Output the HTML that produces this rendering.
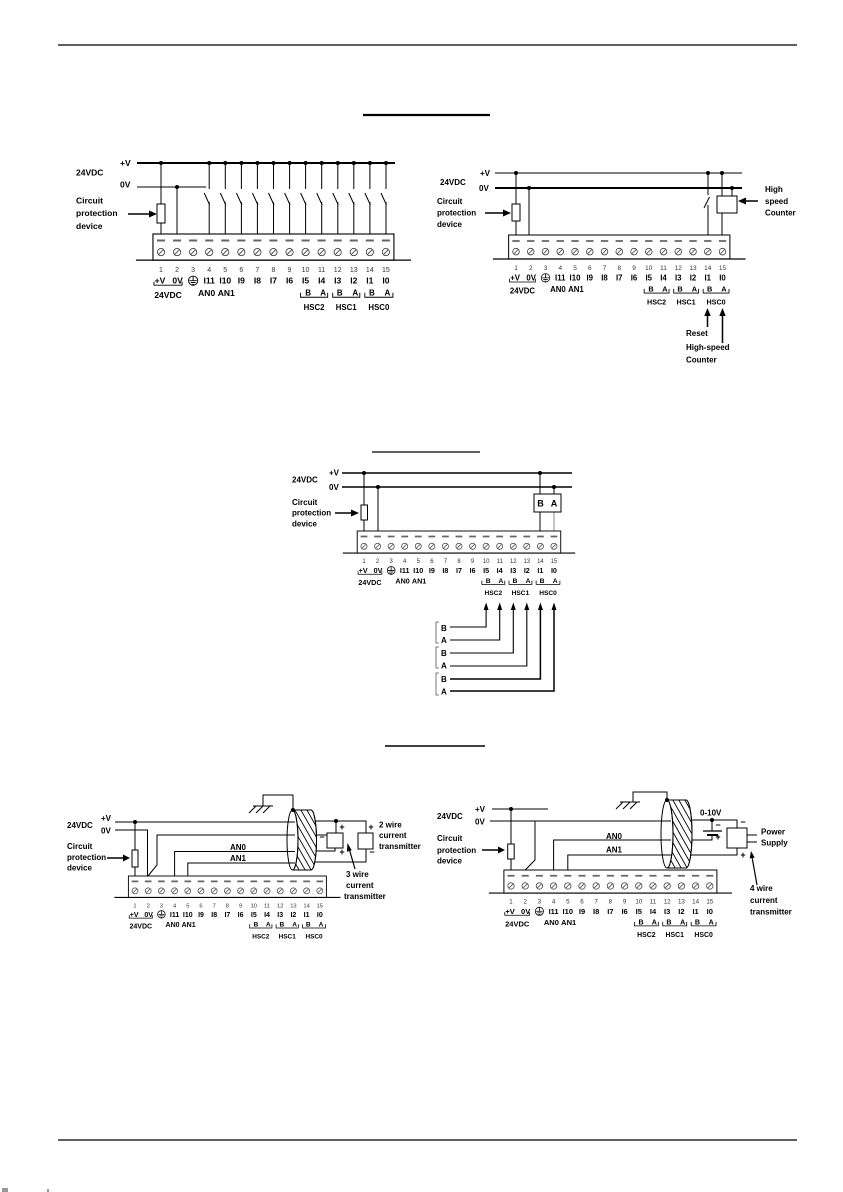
<!DOCTYPE html>
<html><head><meta charset="utf-8"><style>
html,body{margin:0;padding:0;background:#fff}
svg{display:block}
text{font-family:"Liberation Sans",Arial,sans-serif;fill:#000}
.t{font-size:8.5px;font-weight:bold}
.t8{font-size:8px;font-weight:bold}
.n{font-size:7px;fill:#333;text-anchor:middle}
.l{font-size:8.5px;font-weight:bold;text-anchor:middle}
.h{font-size:7.8px;font-weight:bold;text-anchor:middle}
.s{font-size:8px;font-weight:bold;text-anchor:middle}
.g{font-size:9px;font-weight:bold;text-anchor:middle}
</style></head><body>
<svg width="843" height="1192" viewBox="0 0 843 1192" xmlns="http://www.w3.org/2000/svg">
<defs>
<g id="blk" fill="none" stroke="#000">
<rect x="-8" y="0" width="240" height="26" fill="#fff" stroke-width="1.1"/>
<path d="M-25 26H249" stroke-width="1.3"/>
<path stroke="#666" stroke-width="2" d="M-4 6.5h8M12 6.5h8M28 6.5h8M44 6.5h8M60 6.5h8M76 6.5h8M92 6.5h8M108 6.5h8M124 6.5h8M140 6.5h8M156 6.5h8M172 6.5h8M188 6.5h8M204 6.5h8M220 6.5h8"/>
<g stroke="#444" stroke-width="0.9">
<circle cx="0" cy="18" r="3.6"/><circle cx="16" cy="18" r="3.6"/><circle cx="32" cy="18" r="3.6"/><circle cx="48" cy="18" r="3.6"/><circle cx="64" cy="18" r="3.6"/><circle cx="80" cy="18" r="3.6"/><circle cx="96" cy="18" r="3.6"/><circle cx="112" cy="18" r="3.6"/><circle cx="128" cy="18" r="3.6"/><circle cx="144" cy="18" r="3.6"/><circle cx="160" cy="18" r="3.6"/><circle cx="176" cy="18" r="3.6"/><circle cx="192" cy="18" r="3.6"/><circle cx="208" cy="18" r="3.6"/><circle cx="224" cy="18" r="3.6"/>
<path d="M-2.2 20.2l4.4-4.4M13.8 20.2l4.4-4.4M29.8 20.2l4.4-4.4M45.8 20.2l4.4-4.4M61.8 20.2l4.4-4.4M77.8 20.2l4.4-4.4M93.8 20.2l4.4-4.4M109.8 20.2l4.4-4.4M125.8 20.2l4.4-4.4M141.8 20.2l4.4-4.4M157.8 20.2l4.4-4.4M173.8 20.2l4.4-4.4M189.8 20.2l4.4-4.4M205.8 20.2l4.4-4.4M221.8 20.2l4.4-4.4"/>
</g>
<circle cx="32" cy="46.5" r="4.6" stroke-width="0.9"/>
<path stroke-width="0.9" d="M32 42V46.5M28.3 46.5H35.7M29.6 48.3H34.4M31 50.1H33"/>
<path stroke-width="0.9" d="M-7 47.5V51H21V47.5M139 58.5V63H166V58.5M171 58.5V63H198V58.5M203 58.5V63H231V58.5"/>
</g>
<clipPath id="c4"><path d="M292.5 810H311A5.5 30 0 0 1 311 870H292.5A5.5 30 0 0 0 292.5 810Z"/></clipPath>
<clipPath id="c5"><path d="M667 800H686A6 34 0 0 1 686 868H667A6 34 0 0 0 667 800Z"/></clipPath>
</defs>

<!-- page lines -->
<path d="M58 45H797M58 1140H797" stroke="#000" stroke-width="1.3"/>
<path d="M363 115H490" stroke="#000" stroke-width="2.2"/>
<path d="M372 452H480" stroke="#000" stroke-width="1.2"/>
<path d="M385 746H485" stroke="#000" stroke-width="1.6"/>
<rect x="2" y="1188" width="6" height="4" fill="#999"/><rect x="47" y="1189" width="2" height="3" fill="#999"/>

<!-- ============ DIAGRAM 1 ============ -->
<g stroke="#000" fill="none">
<path d="M137 163H395" stroke-width="2"/>
<path d="M137 187H206" stroke-width="1"/>
<path d="M161 163V234M177 187V234" stroke-width="1"/>
<path stroke-width="1" d="M209.2 163V189M204.2 193L209.7 205M209.2 202V234M225.3 163V189M220.3 193L225.8 205M225.3 202V234M241.4 163V189M236.4 193L241.9 205M241.4 202V234M257.4 163V189M252.4 193L257.9 205M257.4 202V234M273.5 163V189M268.5 193L274 205M273.5 202V234M289.6 163V189M284.6 193L290.1 205M289.6 202V234M305.6 163V189M300.6 193L306.1 205M305.6 202V234M321.7 163V189M316.7 193L322.2 205M321.7 202V234M337.8 163V189M332.8 193L338.3 205M337.8 202V234M353.8 163V189M348.8 193L354.3 205M353.8 202V234M369.9 163V189M364.9 193L370.4 205M369.9 202V234M386 163V189M381 193L386.5 205M386 202V234"/>
<rect x="157" y="204" width="8" height="19" fill="#fff" stroke-width="1"/>
<path d="M128 214H150" stroke-width="1.5"/>
</g>
<polygon points="157,214 149,210.5 149,217.5" fill="#000"/>
<g fill="#000">
<circle cx="161" cy="163" r="2"/><circle cx="177" cy="187" r="2"/>
<circle cx="209.2" cy="163" r="2"/><circle cx="225.3" cy="163" r="2"/><circle cx="241.4" cy="163" r="2"/><circle cx="257.4" cy="163" r="2"/><circle cx="273.5" cy="163" r="2"/><circle cx="289.6" cy="163" r="2"/><circle cx="305.6" cy="163" r="2"/><circle cx="321.7" cy="163" r="2"/><circle cx="337.8" cy="163" r="2"/><circle cx="353.8" cy="163" r="2"/><circle cx="369.9" cy="163" r="2"/><circle cx="386" cy="163" r="2"/>
</g>
<text class="t" x="120" y="166">+V</text>
<text class="t" x="76" y="175.5">24VDC</text>
<text class="t" x="120" y="187.5">0V</text>
<text class="t" x="76" y="203.5">Circuit</text>
<text class="t" x="76" y="216">protection</text>
<text class="t" x="76" y="229">device</text>
<g transform="translate(161 234) scale(1.004)"><use href="#blk"/>
<text class="n" x="0" y="38">1</text><text class="n" x="16" y="38">2</text><text class="n" x="32" y="38">3</text><text class="n" x="48" y="38">4</text><text class="n" x="64" y="38">5</text><text class="n" x="80" y="38">6</text><text class="n" x="96" y="38">7</text><text class="n" x="112" y="38">8</text><text class="n" x="128" y="38">9</text><text class="n" x="144" y="38">10</text><text class="n" x="160" y="38">11</text><text class="n" x="176" y="38">12</text><text class="n" x="192" y="38">13</text><text class="n" x="208" y="38">14</text><text class="n" x="224" y="38">15</text>
<text class="l" x="-1" y="49.5">+V</text><text class="l" x="16.5" y="49.5">0V</text><text class="l" x="48" y="49.5">I11</text><text class="l" x="64" y="49.5">I10</text><text class="l" x="80" y="49.5">I9</text><text class="l" x="96" y="49.5">I8</text><text class="l" x="112" y="49.5">I7</text><text class="l" x="128" y="49.5">I6</text><text class="l" x="144" y="49.5">I5</text><text class="l" x="160" y="49.5">I4</text><text class="l" x="176" y="49.5">I3</text><text class="l" x="192" y="49.5">I2</text><text class="l" x="208" y="49.5">I1</text><text class="l" x="224" y="49.5">I0</text>
<text class="l" x="7" y="63.5">24VDC</text><text class="l" x="45.5" y="62">AN0</text><text class="l" x="65" y="62">AN1</text>
<text class="s" x="146.5" y="61.5">B</text><text class="s" x="161.5" y="61.5">A</text><text class="s" x="178" y="61.5">B</text><text class="s" x="193.5" y="61.5">A</text><text class="s" x="210" y="61.5">B</text><text class="s" x="225.5" y="61.5">A</text>
<text class="h" x="152.5" y="75.5">HSC2</text><text class="h" x="184.5" y="75.5">HSC1</text><text class="h" x="217" y="75.5">HSC0</text>
</g>

<!-- ============ DIAGRAM 2 ============ -->
<g stroke="#000" fill="none">
<path d="M495 173H742" stroke-width="1"/>
<path d="M495 188H742" stroke-width="2"/>
<path stroke-width="1" d="M516 173V235M529 188V235M708 173V195M709.5 197L704 208M708 205V235M722 173V196M732 188V196M722 213V235"/>
<rect x="512" y="204" width="8" height="17" fill="#fff" stroke-width="1"/>
<rect x="717" y="196" width="20" height="17" fill="#fff" stroke-width="1"/>
<path d="M485 213H505M758 201H744M707.5 327V314M722.5 343V314" stroke-width="1.5"/>
</g>
<g fill="#000">
<polygon points="511,213 503,209.5 503,216.5"/>
<polygon points="738,201 746,197.5 746,204.5"/>
<polygon points="707.5,308 704.3,316 710.7,316"/>
<polygon points="722.5,308 719.3,316 725.7,316"/>
<circle cx="516" cy="173" r="2"/><circle cx="529" cy="188" r="2"/><circle cx="708" cy="173" r="2"/><circle cx="722" cy="173" r="2"/><circle cx="732" cy="188" r="2"/>
</g>
<text class="t8" x="480" y="176">+V</text>
<text class="t8" x="440" y="185">24VDC</text>
<text class="t8" x="479" y="191">0V</text>
<text class="t8" x="437" y="204">Circuit</text>
<text class="t8" x="437" y="215.5">protection</text>
<text class="t8" x="437" y="227">device</text>
<text class="t8" x="765" y="192">High</text>
<text class="t8" x="765" y="204">speed</text>
<text class="t8" x="765" y="215.5">Counter</text>
<text class="t8" x="686" y="336">Reset</text>
<text class="t8" x="686" y="350">High-speed</text>
<text class="t8" x="686" y="362.5">Counter</text>
<g transform="translate(516 235) scale(0.922)"><use href="#blk"/>
<text class="n" x="0" y="38">1</text><text class="n" x="16" y="38">2</text><text class="n" x="32" y="38">3</text><text class="n" x="48" y="38">4</text><text class="n" x="64" y="38">5</text><text class="n" x="80" y="38">6</text><text class="n" x="96" y="38">7</text><text class="n" x="112" y="38">8</text><text class="n" x="128" y="38">9</text><text class="n" x="144" y="38">10</text><text class="n" x="160" y="38">11</text><text class="n" x="176" y="38">12</text><text class="n" x="192" y="38">13</text><text class="n" x="208" y="38">14</text><text class="n" x="224" y="38">15</text>
<text class="l" x="-1" y="49.5">+V</text><text class="l" x="16.5" y="49.5">0V</text><text class="l" x="48" y="49.5">I11</text><text class="l" x="64" y="49.5">I10</text><text class="l" x="80" y="49.5">I9</text><text class="l" x="96" y="49.5">I8</text><text class="l" x="112" y="49.5">I7</text><text class="l" x="128" y="49.5">I6</text><text class="l" x="144" y="49.5">I5</text><text class="l" x="160" y="49.5">I4</text><text class="l" x="176" y="49.5">I3</text><text class="l" x="192" y="49.5">I2</text><text class="l" x="208" y="49.5">I1</text><text class="l" x="224" y="49.5">I0</text>
<text class="l" x="7" y="63.5">24VDC</text><text class="l" x="45.5" y="62">AN0</text><text class="l" x="65" y="62">AN1</text>
<text class="s" x="146.5" y="61.5">B</text><text class="s" x="161.5" y="61.5">A</text><text class="s" x="178" y="61.5">B</text><text class="s" x="193.5" y="61.5">A</text><text class="s" x="210" y="61.5">B</text><text class="s" x="225.5" y="61.5">A</text>
<text class="h" x="152.5" y="75.5">HSC2</text><text class="h" x="184.5" y="75.5">HSC1</text><text class="h" x="217" y="75.5">HSC0</text>
</g>

<!-- ============ DIAGRAM 3 ============ -->
<g stroke="#000" fill="none">
<path d="M342 473H572M342 487H572" stroke-width="1.4"/>
<path stroke-width="1" d="M364 473V531M378 487V531M540 473V494M554 487V494M540 512V531"/>
<path stroke-width="1" stroke="#888" d="M554 512V531"/>
<rect x="361" y="505" width="6.5" height="15" fill="#fff" stroke-width="1"/>
<rect x="534" y="494" width="27" height="18" fill="#fff" stroke-width="1"/>
<path d="M335 513H352" stroke-width="1.5"/>
<path stroke-width="1.1" d="M450 627H486.1V609M450 640H499.7V609M450 653H513.3V609M450 666H526.8V609"/>
<path stroke-width="1.5" d="M450 679H540.4V609M450 691H554V609"/>
<path stroke-width="0.8" stroke="#555" d="M439 622H436V643H439M439 647H436V668H439M439 673H436V695H439"/>
</g>
<g fill="#000">
<polygon points="359,513 351,509.5 351,516.5"/>
<polygon points="486.1,602.5 483.6,610 488.6,610"/><polygon points="499.7,602.5 497.2,610 502.2,610"/><polygon points="513.3,602.5 510.8,610 515.8,610"/><polygon points="526.8,602.5 524.3,610 529.3,610"/><polygon points="540.4,602.5 537.9,610 542.9,610"/><polygon points="554,602.5 551.5,610 556.5,610"/>
<circle cx="364" cy="473" r="2"/><circle cx="378" cy="487" r="2"/><circle cx="540" cy="473" r="2"/><circle cx="554" cy="487" r="2"/>
</g>
<text class="t8" x="329" y="475.5">+V</text>
<text class="t8" x="292" y="482.5">24VDC</text>
<text class="t8" x="329" y="490">0V</text>
<text class="t8" x="292" y="505">Circuit</text>
<text class="t8" x="292" y="515.5">protection</text>
<text class="t8" x="292" y="526.5">device</text>
<text class="g" x="540.5" y="506.5">B</text><text class="g" x="554" y="506.5">A</text>
<text class="t8" x="441" y="631">B</text><text class="t8" x="441" y="643">A</text>
<text class="t8" x="441" y="656">B</text><text class="t8" x="441" y="668.5">A</text>
<text class="t8" x="441" y="682">B</text><text class="t8" x="441" y="694.5">A</text>
<g transform="translate(364 531) scale(0.848)"><use href="#blk"/>
<text class="n" x="0" y="38">1</text><text class="n" x="16" y="38">2</text><text class="n" x="32" y="38">3</text><text class="n" x="48" y="38">4</text><text class="n" x="64" y="38">5</text><text class="n" x="80" y="38">6</text><text class="n" x="96" y="38">7</text><text class="n" x="112" y="38">8</text><text class="n" x="128" y="38">9</text><text class="n" x="144" y="38">10</text><text class="n" x="160" y="38">11</text><text class="n" x="176" y="38">12</text><text class="n" x="192" y="38">13</text><text class="n" x="208" y="38">14</text><text class="n" x="224" y="38">15</text>
<text class="l" x="-1" y="49.5">+V</text><text class="l" x="16.5" y="49.5">0V</text><text class="l" x="48" y="49.5">I11</text><text class="l" x="64" y="49.5">I10</text><text class="l" x="80" y="49.5">I9</text><text class="l" x="96" y="49.5">I8</text><text class="l" x="112" y="49.5">I7</text><text class="l" x="128" y="49.5">I6</text><text class="l" x="144" y="49.5">I5</text><text class="l" x="160" y="49.5">I4</text><text class="l" x="176" y="49.5">I3</text><text class="l" x="192" y="49.5">I2</text><text class="l" x="208" y="49.5">I1</text><text class="l" x="224" y="49.5">I0</text>
<text class="l" x="7" y="63.5">24VDC</text><text class="l" x="45.5" y="62">AN0</text><text class="l" x="65" y="62">AN1</text>
<text class="s" x="146.5" y="61.5">B</text><text class="s" x="161.5" y="61.5">A</text><text class="s" x="178" y="61.5">B</text><text class="s" x="193.5" y="61.5">A</text><text class="s" x="210" y="61.5">B</text><text class="s" x="225.5" y="61.5">A</text>
<text class="h" x="152.5" y="75.5">HSC2</text><text class="h" x="184.5" y="75.5">HSC1</text><text class="h" x="217" y="75.5">HSC0</text>
</g>

<!-- ============ DIAGRAM 4 ============ -->
<g stroke="#000" fill="none" stroke-width="1">
<path d="M115 822H295M115 830H147.5V876M148 876L157 865V835H295M174.6 876V851.5H295M187.8 876V863H295M135 822V876"/>
<rect x="132" y="850" width="6" height="17" fill="#fff"/>
<path d="M107 858H124" stroke-width="1.5"/>
<path d="M311 821H366V833M336 821V833M311 835H327M311 851H335V848M311 862H366V849"/>
<rect x="327" y="833" width="16" height="15" fill="#fff"/>
<rect x="358" y="833" width="15" height="16" fill="#fff"/>
<path d="M293 810V795H263V806M253 806H273M256 806L249 813M263 806L256 813M270 806L263 813"/>
<path d="M292.5 810H311A5.5 30 0 0 1 311 870H292.5A5.5 30 0 0 0 292.5 810Z" fill="#fff"/>
<g clip-path="url(#c4)"><path stroke-width="0.9" d="M250 805l40 70M256 805l40 70M262 805l40 70M268 805l40 70M274 805l40 70M280 805l40 70M286 805l40 70M292 805l40 70M298 805l40 70M304 805l40 70M310 805l40 70M316 805l40 70"/></g>
<path d="M292.5 810H311A5.5 30 0 0 1 311 870H292.5"/>
<ellipse cx="292.5" cy="840" rx="5.5" ry="30"/>
<path d="M355 869L349.5 850" stroke-width="1.2"/>
</g>
<g fill="#000">
<polygon points="130,858 123,854.5 123,861.5"/>
<polygon points="347.5,843 351.7,850.3 346.9,851.7"/>
<circle cx="135" cy="822" r="2"/><circle cx="336" cy="821" r="2"/><circle cx="293" cy="810" r="2"/>
</g>
<text class="t8" x="101" y="821">+V</text>
<text class="t8" x="67" y="828">24VDC</text>
<text class="t8" x="101" y="833.5">0V</text>
<text class="t8" x="67" y="849">Circuit</text>
<text class="t8" x="67" y="860">protection</text>
<text class="t8" x="67" y="870.5">device</text>
<text class="t8" x="230" y="850">AN0</text>
<text class="t8" x="230" y="861">AN1</text>
<text class="g" x="342" y="830">+</text><text class="g" x="322" y="840">−</text><text class="g" x="342" y="855">+</text>
<text class="g" x="371" y="830">+</text><text class="g" x="372" y="855">−</text>
<text class="t8" x="379" y="827.5">2 wire</text>
<text class="t8" x="379" y="838">current</text>
<text class="t8" x="379" y="849">transmitter</text>
<text class="t8" x="346" y="877">3 wire</text>
<text class="t8" x="346" y="888">current</text>
<text class="t8" x="344" y="899">transmitter</text>
<g transform="translate(135 876) scale(0.825)"><use href="#blk"/>
<text class="n" x="0" y="38">1</text><text class="n" x="16" y="38">2</text><text class="n" x="32" y="38">3</text><text class="n" x="48" y="38">4</text><text class="n" x="64" y="38">5</text><text class="n" x="80" y="38">6</text><text class="n" x="96" y="38">7</text><text class="n" x="112" y="38">8</text><text class="n" x="128" y="38">9</text><text class="n" x="144" y="38">10</text><text class="n" x="160" y="38">11</text><text class="n" x="176" y="38">12</text><text class="n" x="192" y="38">13</text><text class="n" x="208" y="38">14</text><text class="n" x="224" y="38">15</text>
<text class="l" x="-1" y="49.5">+V</text><text class="l" x="16.5" y="49.5">0V</text><text class="l" x="48" y="49.5">I11</text><text class="l" x="64" y="49.5">I10</text><text class="l" x="80" y="49.5">I9</text><text class="l" x="96" y="49.5">I8</text><text class="l" x="112" y="49.5">I7</text><text class="l" x="128" y="49.5">I6</text><text class="l" x="144" y="49.5">I5</text><text class="l" x="160" y="49.5">I4</text><text class="l" x="176" y="49.5">I3</text><text class="l" x="192" y="49.5">I2</text><text class="l" x="208" y="49.5">I1</text><text class="l" x="224" y="49.5">I0</text>
<text class="l" x="7" y="63.5">24VDC</text><text class="l" x="45.5" y="62">AN0</text><text class="l" x="65" y="62">AN1</text>
<text class="s" x="146.5" y="61.5">B</text><text class="s" x="161.5" y="61.5">A</text><text class="s" x="178" y="61.5">B</text><text class="s" x="193.5" y="61.5">A</text><text class="s" x="210" y="61.5">B</text><text class="s" x="225.5" y="61.5">A</text>
<text class="h" x="152.5" y="75.5">HSC2</text><text class="h" x="184.5" y="75.5">HSC1</text><text class="h" x="217" y="75.5">HSC0</text>
</g>

<!-- ============ DIAGRAM 5 ============ -->
<g stroke="#000" fill="none" stroke-width="1">
<path d="M492 809H548M490 821H671M511 809V870M525.2 870L535 860V821M553.6 870V840H671M567.8 870V855H671"/>
<rect x="507.7" y="844" width="6.5" height="15" fill="#fff"/>
<path d="M482 850H499" stroke-width="1.5"/>
<path d="M686 820H737V828M712 820V831M712 835V840H686M686 855H737V848M747 835H757M747 842H757"/>
<path d="M703 831H722" stroke-width="1.2"/>
<path d="M707 835H718" stroke-width="2"/>
<rect x="727" y="828" width="20" height="20" fill="#fff"/>
<path d="M667 800V792H633V802M620 802H640M623 802L616 809M630 802L623 809M637 802L630 809"/>
<path d="M667 800H686A6 34 0 0 1 686 868H667A6 34 0 0 0 667 800Z" fill="#fff"/>
<g clip-path="url(#c5)"><path stroke-width="0.9" d="M622 795l44 78M628 795l44 78M634 795l44 78M640 795l44 78M646 795l44 78M652 795l44 78M658 795l44 78M664 795l44 78M670 795l44 78M676 795l44 78M682 795l44 78M688 795l44 78"/></g>
<path d="M667 800H686A6 34 0 0 1 686 868H667"/>
<ellipse cx="667" cy="834" rx="6" ry="34"/>
<path d="M757 885L752 857" stroke-width="1.2"/>
</g>
<g fill="#000">
<polygon points="505,850 498,846.5 498,853.5"/>
<polygon points="751,851 754.7,857.6 749.7,858.4"/>
<circle cx="511" cy="809" r="2"/><circle cx="712" cy="820" r="2"/><circle cx="667" cy="800" r="2"/>
</g>
<text class="t8" x="475" y="812">+V</text>
<text class="t8" x="437" y="819">24VDC</text>
<text class="t8" x="475" y="824.5">0V</text>
<text class="t8" x="437" y="841">Circuit</text>
<text class="t8" x="437" y="853">protection</text>
<text class="t8" x="437" y="863.5">device</text>
<text class="t8" x="606" y="839">AN0</text>
<text class="t8" x="606" y="852.5">AN1</text>
<text class="t8" x="700" y="815.5">0-10V</text>
<text class="g" x="718" y="828">−</text><text class="g" x="718" y="840">+</text>
<text class="g" x="743" y="825">−</text><text class="g" x="743" y="858">+</text>
<text class="t8" x="761" y="834.5">Power</text>
<text class="t8" x="761" y="845.5">Supply</text>
<text class="t8" x="750" y="891">4 wire</text>
<text class="t8" x="750" y="903">current</text>
<text class="t8" x="750" y="914.5">transmitter</text>
<g transform="translate(511 870) scale(0.8875)"><use href="#blk"/>
<text class="n" x="0" y="38">1</text><text class="n" x="16" y="38">2</text><text class="n" x="32" y="38">3</text><text class="n" x="48" y="38">4</text><text class="n" x="64" y="38">5</text><text class="n" x="80" y="38">6</text><text class="n" x="96" y="38">7</text><text class="n" x="112" y="38">8</text><text class="n" x="128" y="38">9</text><text class="n" x="144" y="38">10</text><text class="n" x="160" y="38">11</text><text class="n" x="176" y="38">12</text><text class="n" x="192" y="38">13</text><text class="n" x="208" y="38">14</text><text class="n" x="224" y="38">15</text>
<text class="l" x="-1" y="49.5">+V</text><text class="l" x="16.5" y="49.5">0V</text><text class="l" x="48" y="49.5">I11</text><text class="l" x="64" y="49.5">I10</text><text class="l" x="80" y="49.5">I9</text><text class="l" x="96" y="49.5">I8</text><text class="l" x="112" y="49.5">I7</text><text class="l" x="128" y="49.5">I6</text><text class="l" x="144" y="49.5">I5</text><text class="l" x="160" y="49.5">I4</text><text class="l" x="176" y="49.5">I3</text><text class="l" x="192" y="49.5">I2</text><text class="l" x="208" y="49.5">I1</text><text class="l" x="224" y="49.5">I0</text>
<text class="l" x="7" y="63.5">24VDC</text><text class="l" x="45.5" y="62">AN0</text><text class="l" x="65" y="62">AN1</text>
<text class="s" x="146.5" y="61.5">B</text><text class="s" x="161.5" y="61.5">A</text><text class="s" x="178" y="61.5">B</text><text class="s" x="193.5" y="61.5">A</text><text class="s" x="210" y="61.5">B</text><text class="s" x="225.5" y="61.5">A</text>
<text class="h" x="152.5" y="75.5">HSC2</text><text class="h" x="184.5" y="75.5">HSC1</text><text class="h" x="217" y="75.5">HSC0</text>
</g>
</svg>
</body></html>
